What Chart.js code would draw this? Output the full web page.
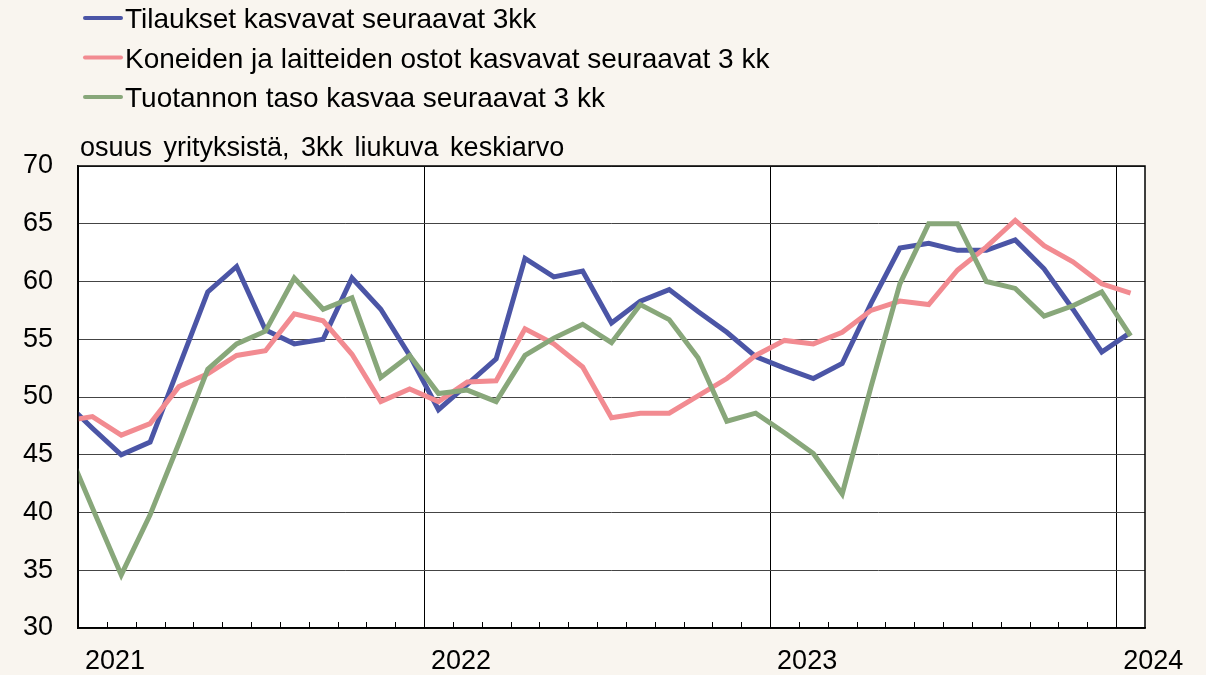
<!DOCTYPE html>
<html>
<head>
<meta charset="utf-8">
<script src="https://cdn.jsdelivr.net/npm/chart.js@4.4.1/dist/chart.umd.min.js"></script>
<style>
  html, body { margin: 0; padding: 0; background: #f9f5ef; }
  canvas { display: block; }
</style>
</head>
<body>
<canvas id="chart" width="1206" height="675"></canvas>
<script>
// months shown, first one (Dec 2020) is only partly visible at the left edge
const months = [
  '2020-12',
  '2021-01', '2021-02', '2021-03', '2021-04', '2021-05', '2021-06',
  '2021-07', '2021-08', '2021-09', '2021-10', '2021-11', '2021-12',
  '2022-01', '2022-02', '2022-03', '2022-04', '2022-05', '2022-06',
  '2022-07', '2022-08', '2022-09', '2022-10', '2022-11', '2022-12',
  '2023-01', '2023-02', '2023-03', '2023-04', '2023-05', '2023-06',
  '2023-07', '2023-08', '2023-09', '2023-10', '2023-11', '2023-12',
  '2024-01'
];

const orders = [
  49.7,
  47.3, 45.0, 46.1, 52.6, 59.1, 61.3, 55.8, 54.6, 55.0, 60.3, 57.6, 53.6,
  48.9, 51.1, 53.3, 62.0, 60.4, 60.9, 56.4, 58.3, 59.3, 57.4, 55.6, 53.5,
  52.5, 51.6, 52.9, 58.1, 62.9, 63.3, 62.7, 62.7, 63.6, 61.1, 57.6, 53.9,
  55.6
];

const machines = [
  47.9,
  48.3, 46.7, 47.7, 50.9, 52.0, 53.6, 54.0, 57.2, 56.6, 53.7, 49.6, 50.7,
  49.6, 51.3, 51.4, 55.9, 54.6, 52.6, 48.2, 48.6, 48.6, 50.1, 51.6, 53.6,
  54.9, 54.6, 55.6, 57.5, 58.3, 58.0, 61.0, 63.0, 65.3, 63.1, 61.7, 59.8,
  59.0
];

const production = [
  46.3,
  40.4, 34.6, 39.8, 46.0, 52.4, 54.6, 55.7, 60.3, 57.6, 58.6, 51.7, 53.6,
  50.3, 50.6, 49.6, 53.6, 55.1, 56.3, 54.7, 58.0, 56.7, 53.4, 47.9, 48.6,
  46.9, 45.1, 41.6, 50.9, 59.8, 65.0, 65.0, 60.0, 59.4, 57.0, 57.9, 59.1,
  55.3
];

const seriesNames = [
  'Tilaukset kasvavat seuraavat 3kk',
  'Koneiden ja laitteiden ostot kasvavat seuraavat 3 kk',
  'Tuotannon taso kasvaa seuraavat 3 kk'
];
const seriesColors = ['#4b55a6', '#f28b91', '#88a77a'];

// year boundaries on the month axis (Jan 2021 = 0)
const yearTicks = [-0.5, 11.5, 23.5, 35.5];
const yearLabels = ['2021', '2022', '2023', '2024'];
const yTicks = [30, 35, 40, 45, 50, 55, 60, 65, 70];
const axisTitle = 'osuus yrityksistä, 3kk liukuva keskiarvo';

const FONT = '"Liberation Sans", Arial, sans-serif';

function toPoints(values) {
  // first month is Dec 2020 -> x = -1
  return values.map((v, i) => ({ x: i - 1, y: v }));
}

const pagePlugin = {
  id: 'page',
  beforeDraw(chart) {
    const { ctx, chartArea: a } = chart;
    ctx.save();
    ctx.fillStyle = '#f9f5ef';
    ctx.fillRect(0, 0, chart.width, chart.height);
    ctx.fillStyle = '#ffffff';
    ctx.fillRect(a.left, a.top, a.right - a.left, a.bottom - a.top);
    ctx.restore();
  },
  afterDraw(chart) {
    const { ctx, chartArea: a } = chart;
    const xs = chart.scales.x;
    ctx.save();

    // minor month ticks along the bottom
    ctx.strokeStyle = '#000';
    ctx.lineWidth = 1;
    ctx.beginPath();
    for (let m = 0; m <= 36; m++) {
      const px = Math.round(xs.getPixelForValue(m - 0.5)) + 0.5;
      ctx.moveTo(px, a.bottom);
      ctx.lineTo(px, a.bottom - 6);
    }
    ctx.stroke();

    // frame
    ctx.lineWidth = 1.5;
    ctx.strokeRect(a.left, a.top, a.right - a.left, a.bottom - a.top);

    // axis title
    ctx.fillStyle = '#000';
    ctx.font = '27px ' + FONT;
    ctx.textAlign = 'left';
    ctx.textBaseline = 'alphabetic';
    ctx.wordSpacing = '4px';
    ctx.fillText(axisTitle, 80, 156);
    ctx.wordSpacing = '0px';

    // legend
    ctx.font = '28px ' + FONT;
    chart.data.datasets.forEach((ds, i) => {
      const base = 28 + i * 39.5;
      ctx.strokeStyle = ds.borderColor;
      ctx.lineWidth = 4;
      ctx.lineCap = 'round';
      ctx.beginPath();
      ctx.moveTo(85, base - 10);
      ctx.lineTo(121, base - 10);
      ctx.stroke();
      ctx.fillStyle = '#000';
      ctx.fillText(ds.label, 125, base);
    });
    ctx.restore();
  }
};

const datasets = [orders, machines, production].map((vals, i) => ({
  label: seriesNames[i],
  data: toPoints(vals),
  borderColor: seriesColors[i],
  backgroundColor: seriesColors[i],
  borderWidth: 5,
  pointRadius: 0,
  tension: 0,
  clip: 0,
  order: 3 - i
}));

new Chart(document.getElementById('chart'), {
  type: 'line',
  data: { datasets: datasets },
  options: {
    responsive: false,
    animation: false,
    devicePixelRatio: 1,
    layout: { padding: { top: 166, right: 61, bottom: 0, left: 0 } },
    plugins: {
      legend: { display: false },
      tooltip: { enabled: false }
    },
    scales: {
      x: {
        type: 'linear',
        min: -0.5,
        max: 36.5,
        afterBuildTicks(scale) {
          scale.ticks = yearTicks.map(v => ({ value: v }));
        },
        afterFit(scale) { scale.height = 47; },
        ticks: {
          callback(value) {
            const k = yearTicks.indexOf(value);
            return k >= 0 ? yearLabels[k] : '';
          },
          align: 'start',
          labelOffset: 7,
          padding: 17,
          maxRotation: 0,
          autoSkip: false,
          color: '#000',
          font: { family: FONT, size: 27 }
        },
        grid: { color: '#000', lineWidth: 1, drawTicks: false },
        border: { color: '#000', width: 1.5 }
      },
      y: {
        min: 30,
        max: 70,
        afterBuildTicks(scale) {
          scale.ticks = yTicks.map(v => ({ value: v }));
        },
        afterFit(scale) { scale.width = 78; },
        ticks: {
          padding: 25,
          color: '#000',
          font: { family: FONT, size: 27 }
        },
        grid: { color: '#444', lineWidth: 1, drawTicks: false },
        border: { color: '#000', width: 1.5 }
      }
    }
  },
  plugins: [pagePlugin]
});
</script>
</body>
</html>
